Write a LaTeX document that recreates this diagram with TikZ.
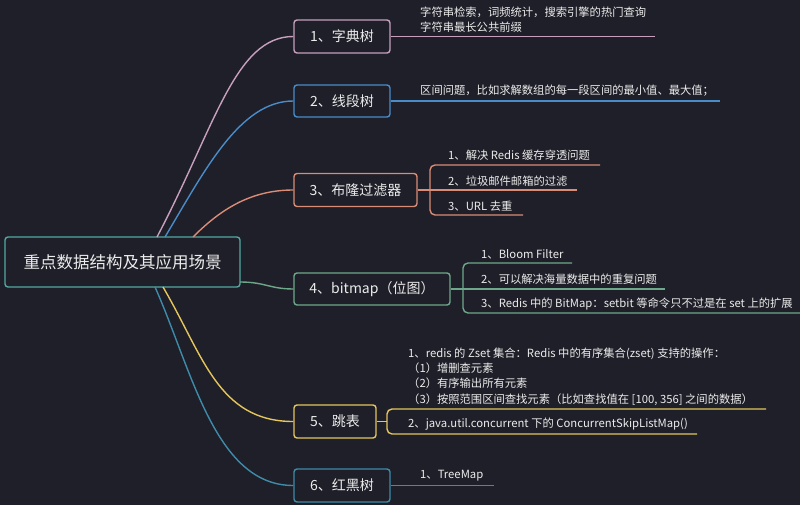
\documentclass[tikz,border=0pt]{standalone}
\usepackage{fontspec}
\setmainfont{Noto Sans CJK SC}
\definecolor{bg}{RGB}{30,31,40}
\definecolor{txt}{RGB}{236,236,236}
\definecolor{cpink}{RGB}{200,160,190}
\definecolor{cblue}{RGB}{74,140,200}
\definecolor{csalmon}{RGB}{218,140,118}
\definecolor{cgreen}{RGB}{110,168,138}
\definecolor{cyellow}{RGB}{228,198,92}
\definecolor{cteal}{RGB}{62,140,170}
\definecolor{croot}{RGB}{82,168,160}
\begin{document}
\begin{tikzpicture}[x=1pt,y=-1pt,
  topic/.style={draw,line width=1.4pt,rounded corners=3pt,fill=bg,text=txt,
     font=\fontsize{14}{16}\selectfont,inner sep=0pt},
  item/.style={anchor=west,inner sep=0pt,text=txt,align=left,
     font=\fontsize{11.3}{15.3}\selectfont},
  link/.style={line width=1.4pt},
  brace/.style={line width=1.4pt,rounded corners=5pt}]
\useasboundingbox (0,0) rectangle (800,505);
\fill[bg] (0,0) rectangle (800,505);

% root
\node[draw=croot,line width=1.4pt,rounded corners=3pt,fill=bg,text=txt,
  minimum width=235pt,minimum height=50pt,inner sep=0pt,
  font=\fontsize{16.5}{20}\selectfont] (root) at (122.5,262) {重点数据结构及其应用场景};

% topics
\node[topic,draw=cpink,minimum width=96pt,minimum height=33pt] (b1) at (342,36.5) {1、字典树};
\node[topic,draw=cblue,minimum width=96pt,minimum height=32pt] (b2) at (342,101) {2、线段树};
\node[topic,draw=csalmon,minimum width=123pt,minimum height=33pt] (b3) at (355.5,190) {3、布隆过滤器};
\node[topic,draw=cgreen,minimum width=156pt,minimum height=32pt] (b4) at (372,289) {4、bitmap（位图）};
\node[topic,draw=cyellow,minimum width=82pt,minimum height=33pt] (b5) at (335,421.5) {5、跳表};
\node[topic,draw=cteal,minimum width=96pt,minimum height=33pt] (b6) at (342,485.5) {6、红黑树};

% start points on root
\coordinate (r1) at (157,237);
\coordinate (r2) at (165,237);
\coordinate (r3) at (193,237);
\coordinate (r4) at (240,282);
\coordinate (r5) at (163,287);
\coordinate (r6) at (155,287);

\draw[link,cpink]  (r1) .. controls (215,127) and (235,36.5) .. (b1.west);
\draw[link,cblue]  (r2) .. controls (205,170) and (240,101) .. (b2.west);
\draw[link,csalmon](r3) .. controls (220,210) and (250,190) .. (b3.west);
\draw[link,cgreen] (r4) .. controls (265,282) and (270,289) .. (b4.west);
\draw[link,cyellow](r5) .. controls (203,355) and (218,421.5) .. (b5.west);
\draw[link,cteal]  (r6) .. controls (192,370) and (215,485.5) .. (b6.west);

% branch 1
\coordinate (e1) at (655,36.5);
\draw[link,cpink] (b1.east) -- (e1);
\node[item] (t1) at (420,19.5) {字符串检索，词频统计，搜索引擎的热门查询\\字符串最长公共前缀};

% branch 2
\coordinate (e2) at (720,101);
\draw[link,cblue] (b2.east) -- (e2);
\node[item] (t2) at (420,91) {区间问题，比如求解数组的每一段区间的最小值、最大值；};

% branch 3
\coordinate (k3) at (430,190);
\coordinate (e31) at (600,165);
\coordinate (e32) at (577,190);
\coordinate (e33) at (523,215);
\draw[link,csalmon] (b3.east) -- (e32);
\draw[brace,csalmon] (e31) -- (430,165) -- (430,215) -- (e33);
\node[item] (t31) at (448,155) {1、解决 Redis 缓存穿透问题};
\node[item] (t32) at (448,181) {2、垃圾邮件邮箱的过滤};
\node[item] (t33) at (448,206) {3、URL 去重};

% branch 4
\coordinate (e41) at (572,263);
\coordinate (e42) at (665,289);
\coordinate (e43) at (800,313);
\draw[link,cgreen] (b4.east) -- (e42);
\draw[brace,cgreen] (e41) -- (463,263) -- (463,313) -- (e43);
\node[item] (t41) at (481,254) {1、Bloom Filter};
\node[item] (t42) at (481,279) {2、可以解决海量数据中的重复问题};
\node[item] (t43) at (481,304) {3、Redis 中的 BitMap：setbit 等命令只不过是在 set 上的扩展};

% branch 5
\coordinate (k5) at (387,421.5);
\coordinate (e51) at (766,409);
\coordinate (e52) at (697,434);
\draw[link,cyellow] (b5.east) -- (k5);
\draw[brace,cyellow] (e51) -- (387,409) -- (387,434) -- (e52);
\node[item] (t51) at (408,376.5) {1、redis 的 Zset 集合：Redis 中的有序集合(zset) 支持的操作：\\（1）增删查元素\\（2）有序输出所有元素\\（3）按照范围区间查找元素（比如查找值在 [100, 356] 之间的数据）};
\node[item] (t52) at (408,424) {2、java.util.concurrent 下的 ConcurrentSkipListMap()};

% branch 6
\coordinate (e6) at (494,485.5);
\draw[link,cteal] (b6.east) -- (e6);
\node[item] (t6) at (420,476) {1、TreeMap};
\end{tikzpicture}
\end{document}
